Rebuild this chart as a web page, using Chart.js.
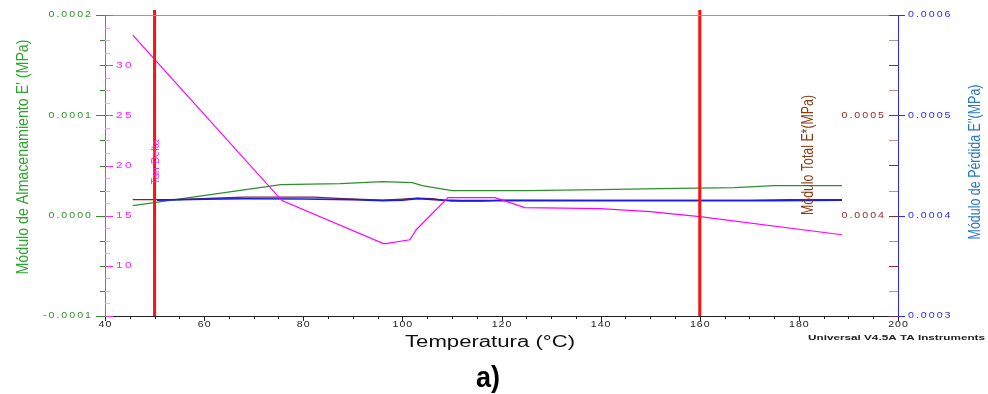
<!DOCTYPE html>
<html>
<head>
<meta charset="utf-8">
<script src="https://cdn.jsdelivr.net/npm/chart.js@4.4.1/dist/chart.umd.min.js"></script>
<style>
html,body{margin:0;padding:0;background:#fff;}
#wrap{width:988px;height:394px;}
</style>
</head>
<body>
<div id="wrap"><canvas id="dma" width="988" height="394"></canvas></div>
<script>
// Tan Delta (inner left axis)
const tanTemps = [45.6, 75.7, 96.3, 101.5, 102.8, 109.2, 118.7, 124.7, 139.9, 150, 160, 188.7];
const tanDelta = [33.0, 16.5, 12.2, 12.6, 13.6, 16.8, 16.8, 15.8, 15.7, 15.4, 14.9, 13.1];

// E' storage modulus (left axis, MPa)
const storTemps = [45.6, 75.5, 87.5, 96, 102, 104, 110, 125, 140, 152, 167, 175, 188.7];
const storModulus = [1.0e-5, 3.1e-5, 3.2e-5, 3.4e-5, 3.3e-5, 3.0e-5, 2.5e-5, 2.5e-5, 2.6e-5, 2.7e-5, 2.8e-5, 3.0e-5, 3.0e-5];

// E'' loss modulus (right axis, MPa)
const lossTemps = [50.5, 60, 68, 80, 90, 96, 100, 103, 105, 108, 112, 125, 150, 175, 188.7];
const lossModulus = [0.0004155, 0.0004165, 0.0004168, 0.0004166, 0.000416, 0.000415, 0.0004155, 0.000417, 0.0004165, 0.0004155, 0.000415, 0.000415, 0.000415, 0.000415, 0.0004155];

// E* total modulus (inner right axis, MPa)
const totTemps = [45.6, 55, 62, 68, 82, 88, 96, 100, 103, 106, 110, 116, 120, 140, 170, 178, 188.7];
const totModulus = [0.000416, 0.000416, 0.0004175, 0.0004185, 0.0004185, 0.000417, 0.0004155, 0.0004165, 0.0004175, 0.000417, 0.0004145, 0.0004145, 0.0004155, 0.0004152, 0.0004152, 0.000416, 0.000416];

// red markers
const markerTemps = [50, 160];

// tick labels
const xTicks = [40, 60, 80, 100, 120, 140, 160, 180, 200];
const storTicks = [-0.0001, 0, 0.0001, 0.0002];
const tanTicks = [10, 15, 20, 25, 30];
const totTicks = [0.0004, 0.0005];
const lossTicks = [0.0003, 0.0004, 0.0005, 0.0006];

const pts = (xs, ys) => xs.map((x, i) => ({x: x, y: ys[i]}));

const GREEN = '#2f922f', MAG = '#ff22ff', DRED = '#982828', BLUE = '#2a2aff';
const TICKFONT = '8.5px "Liberation Sans", Arial, sans-serif';

// wide, letter-spaced tick text like the instrument software
function spaced(ctx, text, x, y, align, gap, stretch) {
    stretch = stretch || 1.25;
    const chars = [...text];
    const ws = chars.map(c => ctx.measureText(c).width * stretch);
    const total = ws.reduce((a, b) => a + b, 0) + gap * (ws.length - 1);
    let cx = align === 'right' ? x - total : align === 'center' ? x - total / 2 : x;
    ctx.textAlign = 'left';
    chars.forEach((c, i) => {
        ctx.save();
        ctx.translate(cx, y);
        ctx.scale(stretch, 1);
        ctx.fillText(c, 0, 0);
        ctx.restore();
        cx += ws[i] + gap;
    });
}

function vTitle(ctx, text, cx, cy, len, font, color) {
    ctx.save();
    ctx.font = font;
    ctx.fillStyle = color;
    const w = ctx.measureText(text).width;
    ctx.translate(cx, cy);
    ctx.rotate(-Math.PI / 2);
    ctx.scale(len / w, 1);
    ctx.textAlign = 'center';
    ctx.textBaseline = 'middle';
    ctx.fillText(text, 0, 0);
    ctx.restore();
}

function hLine(ctx, x1, x2, y, color) {
    const yy = Math.round(y) + 0.5;
    ctx.strokeStyle = color;
    ctx.beginPath(); ctx.moveTo(x1, yy); ctx.lineTo(x2, yy); ctx.stroke();
}

const decorations = {
    id: 'decorations',
    afterDraw(chart) {
        const ctx = chart.ctx;
        const {left, right, top, bottom} = chart.chartArea;
        const sx = chart.scales.x, sE = chart.scales.yStor, sT = chart.scales.yTan;
        const sL = chart.scales.yLoss, sS = chart.scales.yTot;
        ctx.save();
        ctx.lineWidth = 1;

        // top border
        hLine(ctx, left - 8, right, top, '#999');

        // x axis ticks + labels
        ctx.strokeStyle = '#222';
        for (let t = 40; t <= 200; t += 5) {
            const px = Math.round(sx.getPixelForValue(t)) + 0.5;
            ctx.beginPath(); ctx.moveTo(px, bottom); ctx.lineTo(px, bottom + (t % 20 === 0 ? 5 : 3)); ctx.stroke();
        }
        ctx.font = TICKFONT;
        ctx.fillStyle = '#222';
        ctx.textBaseline = 'middle';
        xTicks.forEach(t => spaced(ctx, String(t), sx.getPixelForValue(t), bottom + 9, 'center', 1));

        // left E' axis
        for (let k = -4; k <= 8; k++) {
            const py = sE.getPixelForValue(k * 0.000025);
            hLine(ctx, left - (k % 4 === 0 ? 9 : 5), left, py, GREEN);
        }
        ctx.fillStyle = GREEN;
        storTicks.forEach(v => spaced(ctx, v.toFixed(4), left - 14, sE.getPixelForValue(v), 'right', 2));

        // inner Tan Delta axis
        for (let k = 0; k <= 24; k++) {
            const v = 5 + k * 1.25;
            hLine(ctx, left, left + (k % 4 === 0 ? 8 : 5), sT.getPixelForValue(v), k % 4 === 0 ? MAG : '#f6a0f6');
        }
        ctx.fillStyle = MAG;
        tanTicks.forEach(v => spaced(ctx, String(v), left + 11, sT.getPixelForValue(v), 'left', 2.5, 1.4));

        // inner E* axis
        for (let k = 0; k <= 12; k++) {
            hLine(ctx, right - 9, right, sS.getPixelForValue(0.0003 + k * 0.000025), k % 2 ? '#c09090' : DRED);
        }
        ctx.fillStyle = DRED;
        totTicks.forEach(v => spaced(ctx, v.toFixed(4), right - 14, sS.getPixelForValue(v), 'right', 2));

        // right E'' axis
        lossTicks.forEach(v => hLine(ctx, right, right + 7, sL.getPixelForValue(v), BLUE));
        ctx.fillStyle = BLUE;
        lossTicks.forEach(v => spaced(ctx, v.toFixed(4), right + 10, sL.getPixelForValue(v), 'left', 2));

        // axis titles
        const narrow = 'px "Liberation Sans", Arial, sans-serif';
        vTitle(ctx, "Módulo de Almacenamiento E' (MPa)", 23, 157, 235, '17' + narrow, '#2ea52e');
        vTitle(ctx, "Módulo de Pérdida E''(MPa)", 976, 162, 155, '16' + narrow, '#2a78c2');
        vTitle(ctx, 'Módulo Total E*(MPa)', 808, 155, 120, '17' + narrow, '#8b3a12');
        vTitle(ctx, 'Tan Delta', 156, 162, 45, '11' + narrow, MAG);

        // x title
        ctx.save();
        ctx.font = '16px "Liberation Sans", Arial, sans-serif';
        ctx.fillStyle = '#111';
        ctx.textBaseline = 'middle';
        const tw = ctx.measureText('Temperatura (°C)').width;
        ctx.translate(490, 343);
        ctx.scale(170 / tw, 1);
        ctx.textAlign = 'center';
        ctx.fillText('Temperatura (°C)', 0, 0);
        ctx.restore();

        // instrument note
        ctx.save();
        ctx.font = 'bold 8px "Liberation Sans", Arial, sans-serif';
        ctx.fillStyle = '#222';
        ctx.textBaseline = 'middle';
        const nw = ctx.measureText('Universal V4.5A TA Instruments').width;
        ctx.translate(808, 338);
        ctx.scale(177 / nw, 1);
        ctx.textAlign = 'left';
        ctx.fillText('Universal V4.5A TA Instruments', 0, 0);
        ctx.restore();

        // panel label
        ctx.save();
        ctx.font = 'bold 29px "Liberation Sans", Arial, sans-serif';
        ctx.fillStyle = '#000';
        ctx.textBaseline = 'middle';
        const aw = ctx.measureText('a)').width;
        ctx.translate(488, 379);
        ctx.scale(24 / aw, 1);
        ctx.textAlign = 'center';
        ctx.fillText('a)', 0, 0);
        ctx.restore();

        ctx.restore();
    }
};

const markerSets = markerTemps.map(t => ({
    data: [{x: t, y: -0.0001}, {x: t, y: 0.000205}],
    yAxisID: 'yStor',
    borderColor: '#ff1010',
    borderWidth: 3,
    clip: false
}));

const ctx = document.getElementById('dma').getContext('2d');
new Chart(ctx, {
    type: 'line',
    data: {
        datasets: [
            ...markerSets,
            {label: 'Tan Delta', data: pts(tanTemps, tanDelta), yAxisID: 'yTan', borderColor: '#ff00ff', borderWidth: 1.2},
            {label: "E''", data: pts(lossTemps, lossModulus), yAxisID: 'yLoss', borderColor: '#1c1ce0', borderWidth: 1.6},
            {label: 'E*', data: pts(totTemps, totModulus), yAxisID: 'yTot', borderColor: '#8b2020', borderWidth: 1.2},
            {label: "E'", data: pts(storTemps, storModulus), yAxisID: 'yStor', borderColor: '#2f8f2f', borderWidth: 1.2}
        ]
    },
    options: {
        responsive: false,
        animation: false,
        devicePixelRatio: 1,
        elements: {point: {radius: 0}, line: {tension: 0}},
        layout: {padding: {top: 15, left: 0, right: 0, bottom: 0}},
        plugins: {legend: {display: false}, tooltip: {enabled: false}},
        scales: {
            x: {
                type: 'linear', position: 'bottom', min: 40, max: 200,
                ticks: {display: false, stepSize: 20},
                grid: {display: false},
                border: {color: '#222'},
                afterFit: s => { s.height = 78; }
            },
            yStor: {
                type: 'linear', position: 'left', min: -0.0001, max: 0.0002,
                ticks: {display: false, stepSize: 0.0001},
                grid: {display: false},
                border: {color: '#4a9e4a'},
                afterFit: s => { s.width = 105; }
            },
            yTan: {type: 'linear', display: false, min: 5, max: 35},
            yLoss: {
                type: 'linear', position: 'right', min: 0.0003, max: 0.0006,
                ticks: {display: false, stepSize: 0.0001},
                grid: {display: false},
                border: {color: BLUE},
                afterFit: s => { s.width = 90; }
            },
            yTot: {type: 'linear', display: false, min: 0.0003, max: 0.0006}
        }
    },
    plugins: [decorations]
});
</script>
</body>
</html>
